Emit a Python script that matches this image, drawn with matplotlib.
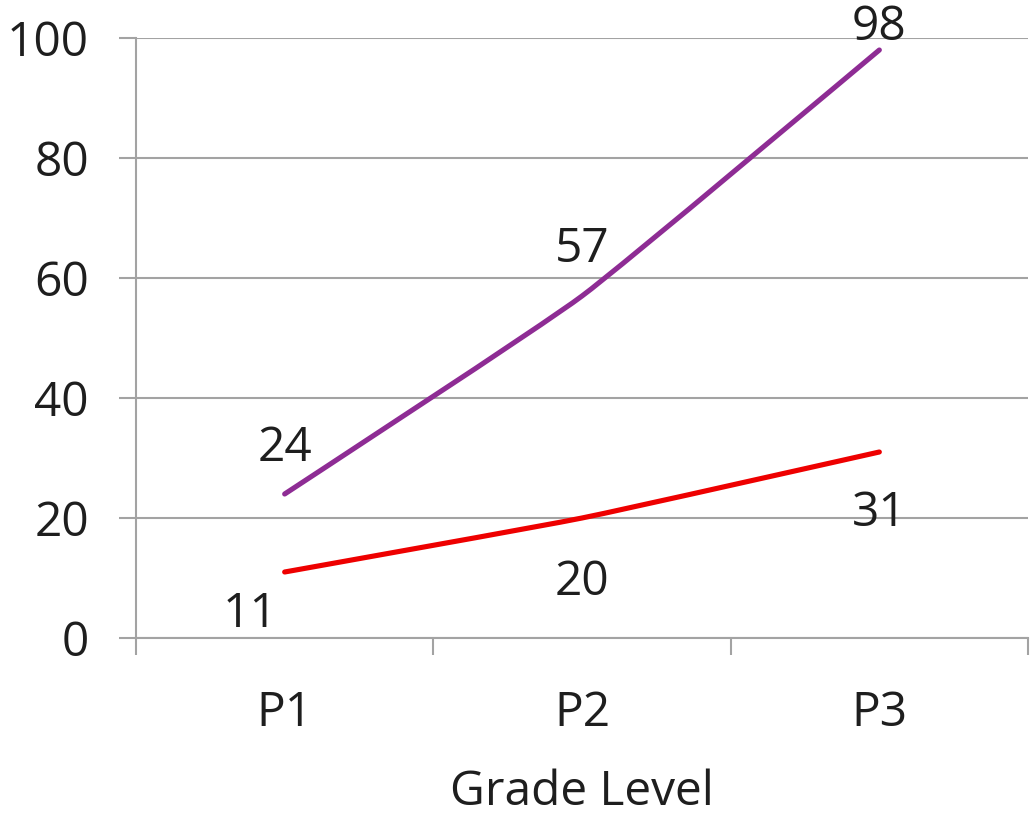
import matplotlib
matplotlib.use("Agg")
import matplotlib.pyplot as plt
from matplotlib.path import Path
from matplotlib.patches import PathPatch

plt.rcParams['font.family'] = ['Open Sans', 'DejaVu Sans']

grades = ["P1", "P2", "P3"]
series_purple = [24, 57, 98]
series_red = [11, 20, 31]
y_ticks = [0, 20, 40, 60, 80, 100]
x_label = "Grade Level"

PURPLE = "#8E2C94"
RED = "#EE0000"
GRID = "#A3A3A3"
TEXT = "#1E1E1E"
FS = 34.5

W, H, DPI = 1031, 815, 100
fig = plt.figure(figsize=(W / DPI, H / DPI), dpi=DPI)
ax = fig.add_axes([136 / W, 1 - 638 / H, (1028 - 136) / W, (638 - 38) / H])

ax.set_xlim(-0.5, len(grades) - 0.5)
ax.set_ylim(0, 100)


def smooth_path(xs, ys, k=14):
    # Cardinal Bezier smoothing through every point (low tension)
    pts = list(zip(xs, ys))
    n = len(pts)
    verts = [pts[0]]
    codes = [Path.MOVETO]
    for i in range(n - 1):
        p_prev = pts[i - 1] if i > 0 else pts[i]
        p0 = pts[i]
        p1 = pts[i + 1]
        p_next = pts[i + 2] if i + 2 < n else pts[i + 1]
        c1 = (p0[0] + (p1[0] - p_prev[0]) / k, p0[1] + (p1[1] - p_prev[1]) / k)
        c2 = (p1[0] - (p_next[0] - p0[0]) / k, p1[1] - (p_next[1] - p0[1]) / k)
        verts += [c1, c2, p1]
        codes += [Path.CURVE4] * 3
    return Path(verts, codes)


xs = list(range(len(grades)))
for vals, col in [(series_purple, PURPLE), (series_red, RED)]:
    patch = PathPatch(smooth_path(xs, vals), fill=False, edgecolor=col,
                      linewidth=3.7, capstyle='round', joinstyle='round', zorder=3)
    ax.add_patch(patch)

# value labels
purple_offsets = [(0, 46), (0, 47), (0, 23)]
red_offsets = [(-35, -42), (0, -64), (0, -61)]
for x, v, off in zip(xs, series_purple, purple_offsets):
    ax.annotate(str(v), (x, v), xytext=off, textcoords='offset pixels',
                ha='center', va='center', fontsize=FS, color=TEXT, zorder=4)
for x, v, off in zip(xs, series_red, red_offsets):
    ax.annotate(str(v), (x, v), xytext=off, textcoords='offset pixels',
                ha='center', va='center', fontsize=FS, color=TEXT, zorder=4)

# axes styling
ax.set_yticks(y_ticks)
ax.set_yticklabels([str(t) for t in y_ticks], fontsize=FS, color=TEXT)
ax.grid(axis='y', color=GRID, linewidth=1.5, zorder=1)
ax.set_axisbelow(True)
ax.tick_params(axis='y', length=12, width=1.5, color=GRID, pad=22)

ax.set_xticks([x - 0.5 for x in range(len(grades) + 1)])
ax.set_xticklabels([])
ax.set_xticks(xs, minor=True)
ax.set_xticklabels(grades, minor=True, fontsize=FS, color=TEXT)
ax.tick_params(axis='x', which='major', length=12, width=1.5, color=GRID)
ax.tick_params(axis='x', which='minor', length=0, pad=37)

for side in ['top', 'right']:
    ax.spines[side].set_visible(False)
for side in ['left', 'bottom']:
    ax.spines[side].set_color(GRID)
    ax.spines[side].set_linewidth(1.5)

ax.set_xlabel(x_label, fontsize=FS, color=TEXT, labelpad=23)

fig.savefig("out.png", dpi=DPI)
